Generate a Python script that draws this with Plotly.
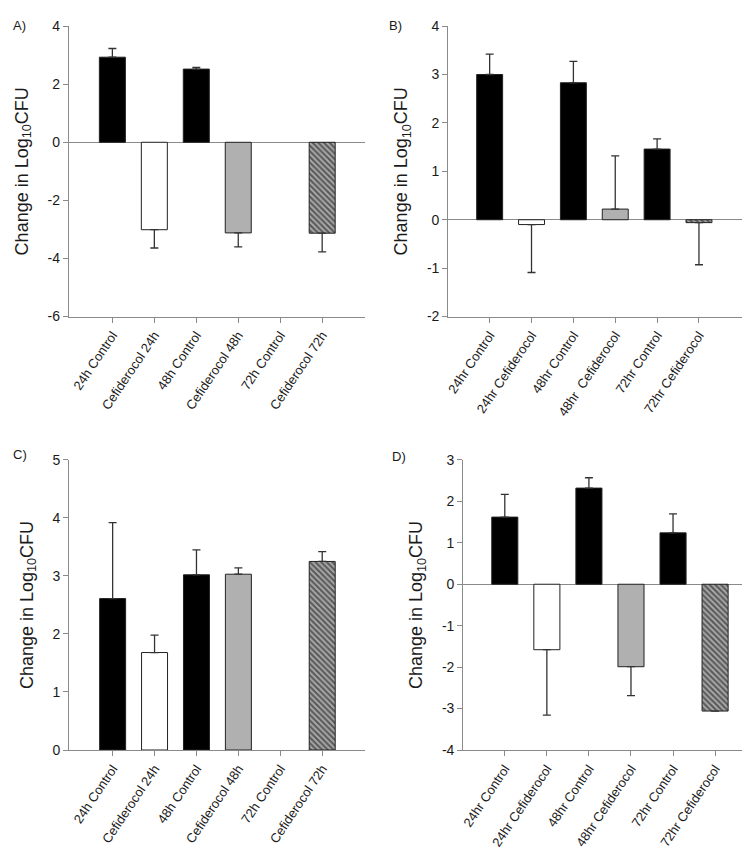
import plotly.graph_objects as go

# ---------------- data ----------------
labels_A = ["24h Control", "Cefiderocol 24h", "48h Control", "Cefiderocol 48h", "72h Control", "Cefiderocol 72h"]
values_A = [2.93, -3.01, 2.52, -3.12, None, -3.13]
sem_A = [0.30, 0.63, 0.06, 0.48, None, 0.64]

labels_B = ["24hr Control", "24hr Cefiderocol", "48hr Control", "48hr\u00a0 Cefiderocol", "72hr Control", "72hr Cefiderocol"]
values_B = [3.00, -0.10, 2.83, 0.22, 1.46, -0.06]
sem_B = [0.42, 0.99, 0.44, 1.10, 0.21, 0.87]

labels_C = ["24h Control", "Cefiderocol 24h", "48h Control", "Cefiderocol 48h", "72h Control", "Cefiderocol 72h"]
values_C = [2.61, 1.68, 3.02, 3.03, None, 3.25]
sem_C = [1.31, 0.30, 0.43, 0.11, None, 0.17]

labels_D = ["24hr Control", "24hr Cefiderocol", "48hr Control", "48hr Cefiderocol", "72hr Control", "72hr Cefiderocol"]
values_D = [1.62, -1.58, 2.32, -1.99, 1.24, -3.06]
sem_D = [0.55, 1.58, 0.25, 0.70, 0.46, 0.0]

ticks_A = [-6, -4, -2, 0, 2, 4]
ticks_B = [-2, -1, 0, 1, 2, 3, 4]
ticks_C = [0, 1, 2, 3, 4, 5]
ticks_D = [-4, -3, -2, -1, 0, 1, 2, 3]

panel_letters = ["A)", "B)", "C)", "D)"]

# ---------------- style ----------------
bar_colors = ["#000000", "#ffffff", "#000000", "#b0b0b0", "#000000", "#5c5c5c"]
bar_shapes = ["", "", "", "", "", "\\"]
AXIS_COLOR = "#8a8a8a"
TEXT_COLOR = "#1a1a1a"
FONT = "Liberation Sans, Arial, sans-serif"

fig = go.Figure()

panels = [
    (labels_A, values_A, sem_A, ticks_A, "x", "y", [0.0773, 0.4733], [0.6405, 0.9879], [-1.04, 6.01]),
    (labels_B, values_B, sem_B, ticks_B, "x2", "y2", [0.5853, 0.9787], [0.6405, 0.9879], [-0.99, 6.03]),
    (labels_C, values_C, sem_C, ticks_C, "x3", "y3", [0.0777, 0.4733], [0.1220, 0.4690], [-1.04, 6.01]),
    (labels_D, values_D, sem_D, ticks_D, "x4", "y4", [0.6053, 1.0], [0.1220, 0.4690], [-0.99, 6.02]),
]

layout_axes = {}
for i, (labels, vals, sem, ticks, xa, ya, xdom, ydom, xr) in enumerate(panels):
    up = [(s if (v is not None and v >= 0) else 0) if s is not None else 0 for v, s in zip(vals, sem)]
    down = [(s if (v is not None and v < 0) else 0) if s is not None else 0 for v, s in zip(vals, sem)]
    fig.add_trace(go.Bar(
        x=list(range(len(labels))), y=vals, xaxis=xa, yaxis=ya, width=0.62,
        marker=dict(color=bar_colors, line=dict(color="#222222", width=1),
                    pattern=dict(shape=bar_shapes, fillmode="overlay", fgcolor="#000000",
                                 size=4, solidity=0.45)),
        error_y=dict(type="data", symmetric=False, array=up, arrayminus=down,
                     color="#333333", thickness=1.3, width=4),
        showlegend=False, hoverinfo="skip",
    ))
    n = "" if i == 0 else str(i + 1)
    layout_axes["xaxis" + n] = dict(
        domain=xdom, range=xr, anchor=ya, tickmode="array",
        tickvals=list(range(len(labels))), ticktext=labels, tickangle=-56,
        showline=True, linecolor=AXIS_COLOR, linewidth=1, ticks="outside",
        ticklen=5, tickcolor=AXIS_COLOR, showgrid=False, zeroline=False,
        tickfont=dict(family=FONT, size=13, color=TEXT_COLOR),
    )
    layout_axes["yaxis" + n] = dict(
        domain=ydom, range=[ticks[0], ticks[-1]], anchor=xa, tickmode="array",
        tickvals=ticks, ticktext=[str(t) for t in ticks],
        showline=True, linecolor=AXIS_COLOR, linewidth=1, ticks="outside",
        ticklen=5, tickcolor=AXIS_COLOR, showgrid=False,
        zeroline=(ticks[0] < 0), zerolinecolor=AXIS_COLOR, zerolinewidth=1,
        tickfont=dict(family=FONT, size=14, color=TEXT_COLOR),
        title=dict(text="Change in Log<sub>10</sub>CFU", standoff=14,
                   font=dict(family=FONT, size=18, color=TEXT_COLOR)),
    )

letter_pos = [(0.0, 1.0), (0.503, 1.0), (0.0, 1 - 437 / 852), (0.507, 1 - 439 / 852)]
annotations = [
    dict(text=t, x=px, y=py, xref="paper", yref="paper", xanchor="left", yanchor="top",
         showarrow=False, font=dict(family=FONT, size=13, color=TEXT_COLOR))
    for t, (px, py) in zip(panel_letters, letter_pos)
]

fig.update_layout(
    width=750, height=852, margin=dict(l=0, r=0, t=0, b=0),
    paper_bgcolor="white", plot_bgcolor="white",
    annotations=annotations, bargap=0.2,
    **layout_axes,
)

fig.write_html("out.html")
